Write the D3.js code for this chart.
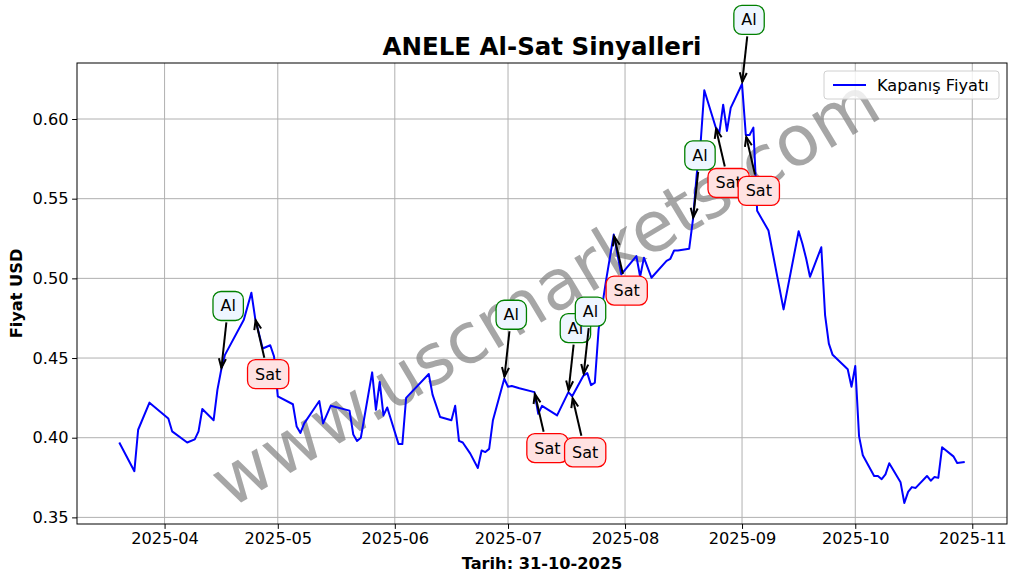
<!DOCTYPE html>
<html><head><meta charset="utf-8">
<script src="https://cdn.jsdelivr.net/npm/d3@7/dist/d3.min.js"></script>
<style>body{margin:0;background:#fff;} text{font-family:"DejaVu Sans",sans-serif;}</style>
</head><body>
<svg id="c" width="1017" height="580"></svg>
<script>
const dates = ["2025-03-20","2025-03-24","2025-03-25","2025-03-28","2025-04-02","2025-04-03","2025-04-07","2025-04-09","2025-04-10","2025-04-11","2025-04-14","2025-04-15","2025-04-16","2025-04-17","2025-04-22","2025-04-24","2025-04-25","2025-04-27","2025-04-29","2025-04-30","2025-05-01","2025-05-05","2025-05-06","2025-05-07","2025-05-08","2025-05-12","2025-05-13","2025-05-15","2025-05-20","2025-05-21","2025-05-22","2025-05-23","2025-05-26","2025-05-27","2025-05-28","2025-05-29","2025-05-30","2025-06-02","2025-06-03","2025-06-04","2025-06-10","2025-06-11","2025-06-13","2025-06-16","2025-06-17","2025-06-18","2025-06-19","2025-06-21","2025-06-23","2025-06-24","2025-06-25","2025-06-26","2025-06-27","2025-06-30","2025-07-01","2025-07-02","2025-07-04","2025-07-08","2025-07-09","2025-07-10","2025-07-14","2025-07-17","2025-07-18","2025-07-21","2025-07-22","2025-07-23","2025-07-24","2025-07-25","2025-07-27","2025-07-29","2025-07-31","2025-08-04","2025-08-05","2025-08-06","2025-08-08","2025-08-12","2025-08-13","2025-08-14","2025-08-15","2025-08-18","2025-08-19","2025-08-20","2025-08-21","2025-08-22","2025-08-25","2025-08-26","2025-08-27","2025-08-28","2025-08-29","2025-09-01","2025-09-02","2025-09-03","2025-09-04","2025-09-05","2025-09-08","2025-09-12","2025-09-16","2025-09-17","2025-09-18","2025-09-19","2025-09-22","2025-09-23","2025-09-24","2025-09-25","2025-09-29","2025-09-30","2025-10-01","2025-10-02","2025-10-03","2025-10-06","2025-10-07","2025-10-08","2025-10-09","2025-10-10","2025-10-13","2025-10-14","2025-10-15","2025-10-16","2025-10-17","2025-10-20","2025-10-21","2025-10-22","2025-10-23","2025-10-24","2025-10-27","2025-10-28","2025-10-30"];
const prices = [0.397,0.379,0.405,0.422,0.412,0.404,0.397,0.399,0.404,0.418,0.411,0.430,0.4425,0.452,0.474,0.491,0.475,0.456,0.458,0.451,0.426,0.421,0.407,0.403,0.409,0.423,0.409,0.420,0.417,0.402,0.398,0.400,0.441,0.4175,0.435,0.414,0.419,0.396,0.396,0.425,0.440,0.427,0.413,0.411,0.420,0.398,0.397,0.390,0.381,0.392,0.391,0.393,0.411,0.437,0.432,0.4325,0.431,0.4286,0.415,0.420,0.414,0.4286,0.426,0.439,0.4405,0.433,0.4346,0.468,0.499,0.5275,0.5025,0.514,0.501,0.513,0.5004,0.511,0.5123,0.5175,0.5175,0.5186,0.537,0.5654,0.584,0.618,0.595,0.5915,0.609,0.5925,0.607,0.622,0.590,0.590,0.5946,0.5425,0.530,0.4805,0.5296,0.5217,0.5123,0.501,0.5195,0.477,0.459,0.452,0.443,0.432,0.445,0.401,0.389,0.376,0.376,0.374,0.377,0.384,0.372,0.359,0.366,0.369,0.3685,0.376,0.373,0.3754,0.3748,0.394,0.3883,0.3842,0.3848];
const buyDates = ["2025-04-16","2025-06-30","2025-07-17","2025-07-21","2025-08-19","2025-09-01"];
const sellDates = ["2025-04-25","2025-07-08","2025-07-18","2025-07-29","2025-08-25","2025-09-02"];
const yTicks = [0.35,0.40,0.45,0.50,0.55,0.60];
const xTickLabels = ["2025-04","2025-05","2025-06","2025-07","2025-08","2025-09","2025-10","2025-11"];

const parse = d3.timeParse("%Y-%m-%d");
const data = dates.map((d,i)=>({date:parse(d), v:prices[i]}));
const svg = d3.select("#c");
const L=77,R=1007,T=63,B=524;
const dExt = d3.extent(data,d=>d.date);
const span = dExt[1]-dExt[0];
const x = d3.scaleTime().domain([new Date(+dExt[0]-span*0.05), new Date(+dExt[1]+span*0.05)]).range([L,R]);
const vExt = d3.extent(prices);
const vs = vExt[1]-vExt[0];
const y = d3.scaleLinear().domain([vExt[0]-vs*0.05, vExt[1]+vs*0.05]).range([B,T]);
const xTicks = xTickLabels.map(s=>parse(s+"-01"));

// grid
const g = svg.append("g");
g.selectAll(".gx").data(xTicks).enter().append("line")
  .attr("x1",d=>x(d)).attr("x2",d=>x(d)).attr("y1",T).attr("y2",B)
  .attr("stroke","#b0b0b0").attr("stroke-width",1);
g.selectAll(".gy").data(yTicks).enter().append("line")
  .attr("x1",L).attr("x2",R).attr("y1",d=>y(d)).attr("y2",d=>y(d))
  .attr("stroke","#b0b0b0").attr("stroke-width",1);

// watermark
svg.append("text").text("www.uscmarkets.com")
  .attr("transform","translate(545,292) rotate(-31)")
  .attr("text-anchor","middle").attr("dominant-baseline","central")
  .attr("font-size",70).attr("fill","#808080").attr("fill-opacity",0.7);

// line
svg.append("path").datum(data)
  .attr("d",d3.line().x(d=>x(d.date)).y(d=>y(d.v)))
  .attr("fill","none").attr("stroke","#0000ff").attr("stroke-width",2).attr("stroke-linejoin","round");

// axes
const xAxis = d3.axisBottom(x).tickValues(xTicks).tickFormat(d3.timeFormat("%Y-%m")).tickSize(4.9).tickPadding(3.5);
const ax = svg.append("g").attr("transform",`translate(0,${B})`).call(xAxis);
ax.select(".domain").remove();
ax.selectAll("text").attr("font-size",16.2).attr("fill","#000").attr("font-family","DejaVu Sans");
ax.selectAll("line").attr("stroke","#000").attr("stroke-width",1);
const yAxis = d3.axisLeft(y).tickValues(yTicks).tickFormat(d3.format(".2f")).tickSize(4.9).tickPadding(3.5);
const ay = svg.append("g").attr("transform",`translate(${L},0)`).call(yAxis);
ay.select(".domain").remove();
ay.selectAll("text").attr("font-size",16.2).attr("fill","#000").attr("font-family","DejaVu Sans");
ay.selectAll("line").attr("stroke","#000").attr("stroke-width",1);
svg.append("rect").attr("x",L).attr("y",T).attr("width",R-L).attr("height",B-T)
  .attr("fill","none").attr("stroke","#000").attr("stroke-width",1);

// labels
svg.append("text").text("ANELE Al-Sat Sinyalleri").attr("x",(L+R)/2).attr("y",55)
  .attr("text-anchor","middle").attr("font-weight","bold").attr("font-size",24.5);
svg.append("text").text("Tarih: 31-10-2025").attr("x",(L+R)/2).attr("y",569)
  .attr("text-anchor","middle").attr("font-weight","bold").attr("font-size",16.2);
svg.append("text").text("Fiyat USD").attr("transform",`translate(22,${(T+B)/2}) rotate(-90)`)
  .attr("text-anchor","middle").attr("font-weight","bold").attr("font-size",16.2);

// annotations
const lookup = new Map(data.map(d=>[d3.timeFormat("%Y-%m-%d")(d.date), d]));
function annotate(ds, label, dx, dy, stroke, fill){
  ds.forEach(s=>{
    const p = lookup.get(s);
    const px = x(p.date), py = y(p.v);
    const tx = px+dx, ty = py+dy;
    const grp = svg.append("g");
    const txt = grp.append("text").text(label).attr("x",tx).attr("y",ty)
      .attr("text-anchor","middle").attr("dominant-baseline","central").attr("font-size",16);
    const bb = txt.node().getBBox();
    const w = bb.width+15, h = 29;
    grp.insert("rect","text").attr("x",tx-w/2).attr("y",ty-h/2).attr("width",w).attr("height",h)
      .attr("rx",8).attr("ry",8).attr("fill",fill).attr("stroke",stroke).attr("stroke-width",1.3);
    const vx = px-tx, vy = py-ty, len = Math.hypot(vx,vy);
    const ux = vx/len, uy = vy/len;
    const tEdge = Math.min((w/2)/Math.abs(ux||1e-9),(h/2)/Math.abs(uy||1e-9)) + 2;
    const sx = tx+ux*tEdge, sy = ty+uy*tEdge;
    const ex = px-ux*2, ey = py-uy*2;
    const arr = svg.append("g").attr("stroke","#000").attr("stroke-width",2).attr("fill","none");
    arr.append("line").attr("x1",sx).attr("y1",sy).attr("x2",ex).attr("y2",ey);
    const hl=10, ang=0.36;
    const bx = -ux, by = -uy;
    const r1x = bx*Math.cos(ang)-by*Math.sin(ang), r1y = bx*Math.sin(ang)+by*Math.cos(ang);
    const r2x = bx*Math.cos(-ang)-by*Math.sin(-ang), r2y = bx*Math.sin(-ang)+by*Math.cos(-ang);
    arr.append("path").attr("d",`M${ex+r1x*hl},${ey+r1y*hl}L${ex},${ey}L${ex+r2x*hl},${ey+r2y*hl}`);
  });
}
annotate(buyDates,"Al",7,-64,"#008000","#eef6ff");
annotate(sellDates,"Sat",13,56,"#ff0000","#ffe2e2");

// legend
const lg = svg.append("g");
lg.append("rect").attr("x",824).attr("y",71).attr("width",175).attr("height",28).attr("rx",3)
  .attr("fill","#fff").attr("fill-opacity",0.8).attr("stroke","#d0d0d0").attr("stroke-width",1);
lg.append("line").attr("x1",833).attr("x2",866).attr("y1",85).attr("y2",85).attr("stroke","#0000ff").attr("stroke-width",2);
lg.append("text").text("Kapanış Fiyatı").attr("x",877).attr("y",91).attr("font-size",16.2);
</script>
</body></html>
